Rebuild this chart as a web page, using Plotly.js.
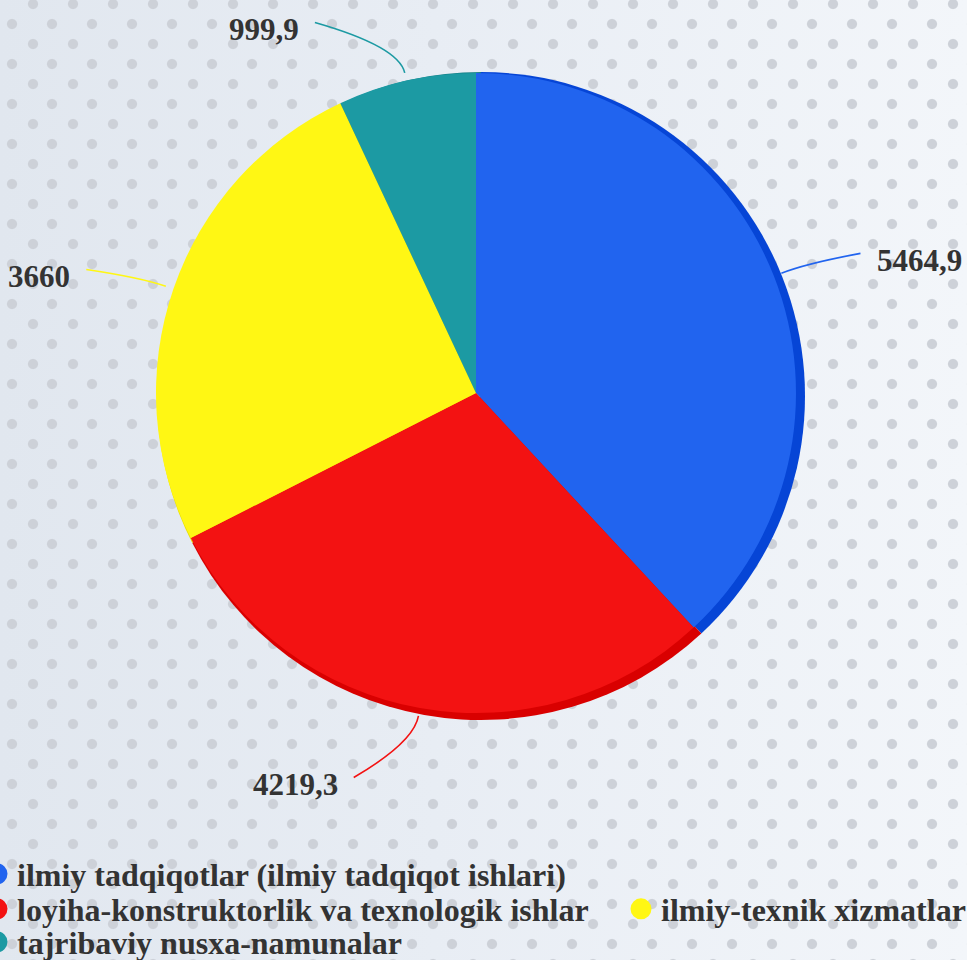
<!DOCTYPE html>
<html>
<head>
<meta charset="utf-8">
<script src="https://cdn.plot.ly/plotly-3.0.1.min.js"></script>
<style>
html,body{margin:0;padding:0;width:967px;height:960px;overflow:hidden;}
body{
  background:
    radial-gradient(circle at 20px 20px, #cdd1d8 4.5px, rgba(205,209,216,0) 5.6px) 13px -16px / 40px 40px,
    radial-gradient(circle at 20px 20px, #cdd1d8 4.5px, rgba(205,209,216,0) 5.6px) -8px 4px / 40px 40px,
    linear-gradient(90deg, #e1e7ef 0%, #e8edf4 45%, #f3f6fa 100%);
}
#chart{width:967px;height:960px;}
</style>
</head>
<body>
<div id="chart"></div>
<script>
// ---- data ----
const categories = [
  "ilmiy tadqiqotlar (ilmiy tadqiqot ishlari)",
  "loyiha-konstruktorlik va texnologik ishlar",
  "ilmiy-texnik xizmatlar",
  "tajribaviy nusxa-namunalar"
];
const values = [5464.9, 4219.3, 3660, 999.9];
const valueLabels = ["5464,9", "4219,3", "3660", "999,9"];

// ---- style ----
const W = 967, H = 960;
const faceColors = ["#2164ef", "#f31212", "#fff714", "#1c9aa3"];
const rimColors  = ["#0645d6", "#d90000", "#e6de00", "#147f87"];
const faceCenter = [476, 393], faceR = 320;
const rimCenter  = [481, 396], rimR = 324;
const labelFont = {family: "Liberation Serif, 'Times New Roman', serif", size: 31, color: "#333333", weight: 700};
const legendFont = {family: "Liberation Serif, 'Times New Roman', serif", size: 32, color: "#333333", weight: 700};
// label line end offsets from the knee point (px), per slice
const lineEndOffsets = [[54, -10], [-60, 35], [-54, -8], [-84, -24]];
const legendSlots = [   // marker centre of each legend entry (px)
  [-3, 874], [-3, 909], [641, 909], [-3, 942]
];

function domainFor(c, r) {
  return {x: [(c[0] - r) / W, (c[0] + r) / W], y: [1 - (c[1] + r) / H, 1 - (c[1] - r) / H]};
}

const pieCommon = {
  type: "pie", values: values, labels: categories, sort: false,
  direction: "clockwise", rotation: 0, textinfo: "none",
  hoverinfo: "label+value", showlegend: false
};
const traces = [
  Object.assign({}, pieCommon, {marker: {colors: rimColors, line: {width: 0}}, domain: domainFor(rimCenter, rimR), hoverinfo: "skip"}),
  Object.assign({}, pieCommon, {marker: {colors: faceColors, line: {width: 0}}, domain: domainFor(faceCenter, faceR)})
];

const legendIds = ["legend", "legend2", "legend3", "legend4"];
categories.forEach((c, i) => {
  traces.push({
    type: "scatter", mode: "markers", x: [null], y: [null], name: c,
    marker: {size: 16, color: faceColors[i], line: {width: 5, color: faceColors[i]}},
    legend: legendIds[i], showlegend: true, hoverinfo: "skip"
  });
});

// label lines and texts derived from slice angles
const total = values.reduce((a, b) => a + b, 0);
const shapes = [], annotations = [];
let cum = 0;
values.forEach((v, i) => {
  const mid = (cum + v / 2) / total * 2 * Math.PI;
  cum += v;
  const ux = Math.sin(mid), uy = -Math.cos(mid);
  const s = [faceCenter[0] + ux * (faceR + 8), faceCenter[1] + uy * (faceR + 8)];
  const k = [faceCenter[0] + ux * (faceR + 35), faceCenter[1] + uy * (faceR + 35)];
  const e = [k[0] + lineEndOffsets[i][0], k[1] + lineEndOffsets[i][1]];
  shapes.push({
    type: "path", xref: "x", yref: "y", layer: "above",
    path: `M${s[0]},${s[1]} Q${k[0]},${k[1]} ${e[0]},${e[1]}`,
    line: {color: faceColors[i], width: 1.6}
  });
  const right = e[0] > k[0];
  annotations.push({
    xref: "x", yref: "y", x: e[0] + (right ? 15 : -14), y: e[1] + 7,
    xanchor: right ? "left" : "right", yanchor: "middle",
    text: valueLabels[i], showarrow: false, font: labelFont
  });
});

const layout = {
  width: W, height: H,
  margin: {l: 0, r: 0, t: 0, b: 0, pad: 0, autoexpand: false},
  paper_bgcolor: "rgba(0,0,0,0)", plot_bgcolor: "rgba(0,0,0,0)",
  xaxis: {range: [0, W], visible: false, fixedrange: true},
  yaxis: {range: [H, 0], visible: false, fixedrange: true},
  shapes: shapes, annotations: annotations
};
legendIds.forEach((id, i) => {
  const slot = legendSlots[i];
  layout[id] = {
    orientation: "h", xanchor: "left", yanchor: "middle",
    x: (slot[0] - 20) / W, y: 1 - slot[1] / H,
    font: legendFont, bgcolor: "rgba(0,0,0,0)", borderwidth: 0,
    itemclick: false, itemdoubleclick: false
  };
});

Plotly.newPlot("chart", traces, layout, {displayModeBar: false, responsive: false});
</script>
</body>
</html>
